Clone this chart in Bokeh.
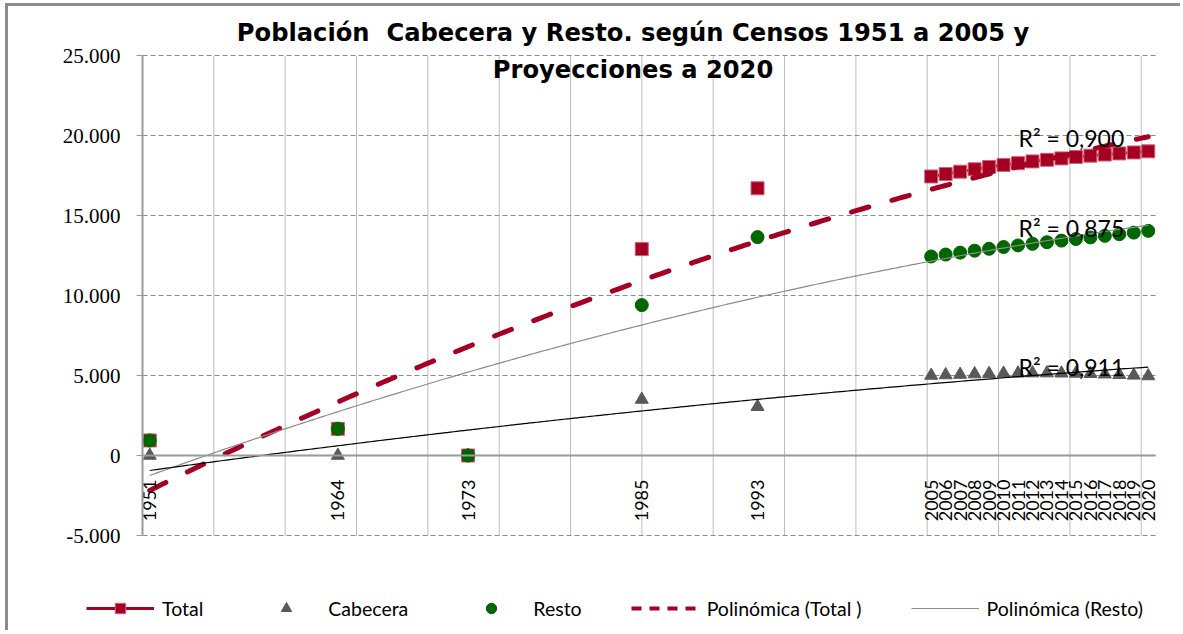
import numpy as np
from bokeh.plotting import figure
from bokeh.models import (Range1d, FixedTicker, Legend, LegendItem, Label,
                          CustomJSTickFormatter)
from bokeh.embed import file_html
from bokeh.resources import INLINE
from bokeh.core.properties import value

# ---------------- data ----------------
years = [1951, 1964, 1973, 1985, 1993,
         2005, 2006, 2007, 2008, 2009, 2010, 2011, 2012,
         2013, 2014, 2015, 2016, 2017, 2018, 2019, 2020]
total = [940, 1670, 0, 12900, 16700,
         17440, 17590, 17740, 17890, 18030, 18160, 18270, 18380,
         18480, 18570, 18660, 18740, 18810, 18880, 18940, 19010]
cabecera = [0, 0, 0, 3500, 3050,
            5000, 5030, 5060, 5090, 5110, 5130, 5140, 5150,
            5150, 5140, 5130, 5110, 5080, 5050, 5010, 4970]
resto = [940, 1670, 0, 9400, 13650,
         12440, 12560, 12680, 12800, 12920, 13030, 13130, 13230,
         13330, 13430, 13530, 13630, 13730, 13830, 13930, 14040]
r2_text = ["R² = 0,900", "R² = 0,875", "R² = 0,911"]
y_ticks = [-5000, 0, 5000, 10000, 15000, 20000, 25000]
title_lines = ["Población  Cabecera y Resto. según Censos 1951 a 2005 y",
               "Proyecciones a 2020"]
legend_labels = ["Total", "Cabecera", "Resto", "Polinómica (Total )", "Polinómica (Resto)"]

# ---------------- layout helpers ----------------
X0, X1 = 1950.5, 2020.5          # plotted x extent (years)
Y0, Y1 = -5000, 25000            # plotted y extent
PX_L, PX_R, PX_T, PX_B = 142, 1155, 55, 535   # page pixels of the plot area
W, H = 1180, 630


def dx(px):
    return X0 + (px - PX_L) * (X1 - X0) / (PX_R - PX_L)


def dy(py):
    return Y1 - (py - PX_T) * (Y1 - Y0) / (PX_B - PX_T)


RED = "#A50021"
GREEN = "#006600"
GRAY = "#595959"

# the canvas is the frame; axes are pinned at fixed locations inside it
p = figure(width=W, height=H, x_range=Range1d(dx(0), dx(W)), y_range=Range1d(dy(H), dy(0)),
           output_backend="svg", toolbar_location=None, title=None, min_border=0)
p.outline_line_color = None
p.background_fill_color = None
p.border_fill_color = None
p.styles = {"box-shadow": "inset 5px 3px 0 0 #ffffff, inset 8px 6px 0 0 #8c8c8c"}
p.xgrid.visible = False
p.ygrid.visible = False

# grid lines of the plot area
grid_x = [X0 + k * 5 * (X1 - X0) / 71 for k in range(1, 15)]
p.segment(x0=grid_x, y0=[Y0] * len(grid_x), x1=grid_x, y1=[Y1] * len(grid_x),
          line_color="#7a7a7a", line_dash="1 1", line_width=1)
p.segment(x0=[X0] * len(y_ticks), y0=y_ticks, x1=[X1] * len(y_ticks), y1=y_ticks,
          line_color="#8c8c8c", line_dash="5 3", line_width=1)

# axes
p.xaxis.fixed_location = 0
p.xaxis.bounds = (X0, X1)
p.xaxis.ticker = FixedTicker(ticks=years)
p.xaxis.major_label_orientation = np.pi / 2
p.xaxis.major_tick_out = 0
p.xaxis.major_tick_in = 0
p.xaxis.minor_tick_out = 0
p.xaxis.minor_tick_in = 0
p.xaxis.major_label_standoff = 24
p.xaxis.major_label_text_font = "Lato"
p.xaxis.major_label_text_font_size = "18px"
p.xaxis.major_label_text_color = "#000000"
p.xaxis.axis_line_color = "#9a9a9a"
p.xaxis.axis_line_width = 2

p.yaxis.fixed_location = X0
p.yaxis.bounds = (Y0, Y1)
p.yaxis.ticker = FixedTicker(ticks=y_ticks)
p.yaxis.formatter = CustomJSTickFormatter(
    code="return String(tick).replace(/\\B(?=(\\d{3})+(?!\\d))/g, '.')")
p.yaxis.major_tick_out = 6
p.yaxis.major_tick_in = 0
p.yaxis.minor_tick_out = 0
p.yaxis.minor_tick_in = 0
p.yaxis.major_tick_line_color = "#9a9a9a"
p.yaxis.major_label_standoff = 16
p.yaxis.major_label_text_font = "Liberation Serif"
p.yaxis.major_label_text_font_size = "21px"
p.yaxis.major_label_text_color = "#000000"
p.yaxis.axis_line_color = "#9a9a9a"
p.yaxis.axis_line_width = 2

# ---------------- series ----------------
yrs = np.array(years, dtype=float)
tot = np.array(total, dtype=float)
lx, ly = [], []
for i in range(len(yrs)):
    if i > 0 and yrs[i] - yrs[i - 1] > 1:   # break the line where years are not consecutive
        lx.append(np.nan)
        ly.append(np.nan)
    lx.append(yrs[i])
    ly.append(tot[i])

r_cab = p.scatter(years, cabecera, marker="triangle", size=13,
                  fill_color=GRAY, line_color=GRAY)
r_tot_line = p.line(lx, ly, line_color=RED, line_width=3)
r_tot_pts = p.scatter(years, total, marker="square", size=13,
                      fill_color=RED, line_color="#d0607a", line_width=1)
r_res = p.scatter(years, resto, marker="circle", size=13,
                  fill_color=GREEN, line_color=GREEN)


def poly2(xv, yv):
    """second-order polynomial trend (Excel 'Polinómica' trendline)"""
    xv = np.asarray(xv, float) - 1985
    return np.polyfit(xv, np.asarray(yv, float), 2)


xs = np.linspace(years[0], years[-1], 300)
r_tot_trend = p.line(xs, np.polyval(poly2(years, total), xs - 1985), line_color=RED,
                     line_width=5, line_dash="18 24", line_cap="round")
r_res_trend = p.line(xs, np.polyval(poly2(years, resto), xs - 1985),
                     line_color="#8c8c8c", line_width=1.2)
r_cab_trend = p.line(xs, np.polyval(poly2(years, cabecera), xs - 1985),
                     line_color="#000000", line_width=1.2)
# legend-only proxy for the dashed trend (shorter dashes, as in the legend sample)
r_dash_legend = p.line([np.nan], [np.nan], line_color=RED, line_width=4, line_dash="10 8")

# text anchors (alphabetic baseline, compensated for the renderer's baseline offset)
TXT_DY = -9
p.text(x=[dx(1018)] * 3, y=[dy(146 + TXT_DY), dy(236.7 + TXT_DY), dy(375 + TXT_DY)],
       text=r2_text, text_font=value("Lato"), text_font_size="23px", text_color="#000000",
       text_baseline="alphabetic", text_align="left")

# title
for t, by in zip(title_lines, [41.7, 78.3]):
    p.add_layout(Label(x=dx(632.5), y=dy(by + TXT_DY), text=t.replace("  ", "\u00a0 "),
                       text_align="center", text_baseline="alphabetic",
                       text_font="DejaVu Sans", text_font_style="bold",
                       text_font_size="24.2px", text_color="#000000"))

legend = Legend(items=[
    LegendItem(label=legend_labels[0], renderers=[r_tot_line, r_tot_pts]),
    LegendItem(label=legend_labels[1], renderers=[r_cab]),
    LegendItem(label=legend_labels[2], renderers=[r_res]),
    LegendItem(label=legend_labels[3], renderers=[r_dash_legend]),
    LegendItem(label=legend_labels[4], renderers=[r_res_trend]),
], orientation="horizontal", location=(86, H - 621),
    spacing=49, glyph_width=68, glyph_height=26, label_standoff=8,
    padding=0, margin=0, border_line_color=None, background_fill_alpha=0,
    label_text_font="Lato", label_text_font_size="19.5px", label_text_color="#000000")
p.add_layout(legend)

open("out.html", "w").write(file_html(p, INLINE))
